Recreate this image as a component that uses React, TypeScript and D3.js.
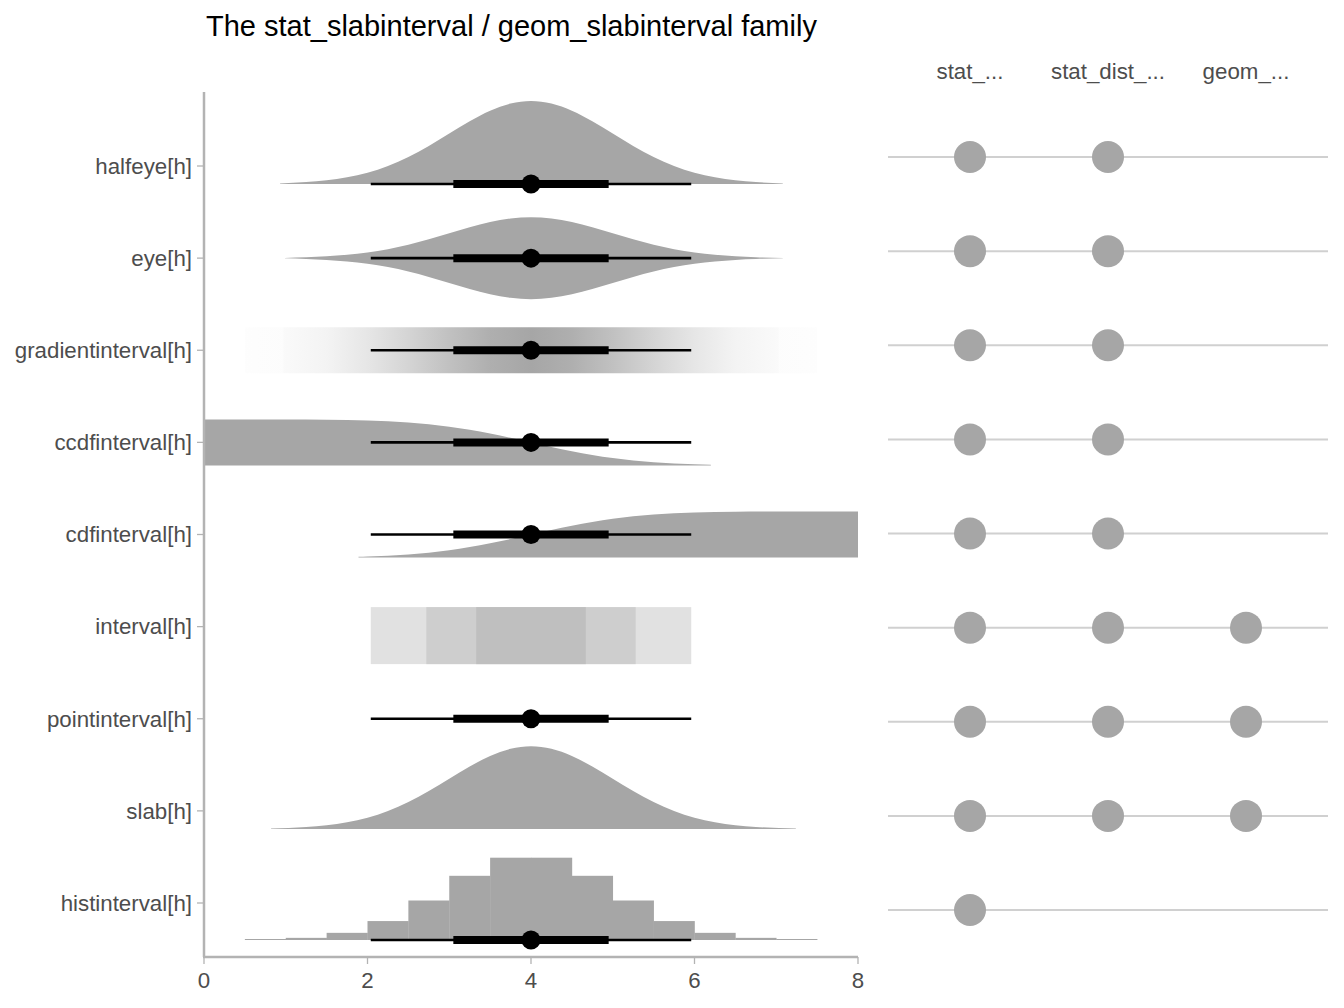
import React, { useEffect, useRef } from "react";
import * as d3 from "d3";

const rowNames = [
  "halfeye[h]",
  "eye[h]",
  "gradientinterval[h]",
  "ccdfinterval[h]",
  "cdfinterval[h]",
  "interval[h]",
  "pointinterval[h]",
  "slab[h]",
  "histinterval[h]",
];
const xTicks = [0, 2, 4, 6, 8];
const columns = ["stat_...", "stat_dist_...", "geom_..."];
// 1 = that function family exists for this geom
const availability = [
  [1, 1, 0],
  [1, 1, 0],
  [1, 1, 0],
  [1, 1, 0],
  [1, 1, 0],
  [1, 1, 1],
  [1, 1, 1],
  [1, 1, 1],
  [1, 0, 0],
];

// slab density (relative to peak)
const densX = [1.25, 1.5, 1.75, 2, 2.25, 2.5, 2.75, 3, 3.25, 3.5, 3.75, 4, 4.25, 4.5, 4.75, 5, 5.25, 5.5, 5.75, 6, 6.25, 6.5, 6.75];
const densY = [0.023, 0.044, 0.08, 0.135, 0.216, 0.325, 0.458, 0.607, 0.755, 0.882, 0.969, 1, 0.969, 0.882, 0.755, 0.607, 0.458, 0.325, 0.216, 0.135, 0.08, 0.044, 0.023];
const tailValue = 0.006;
const halfeyeRange = [0.93, 7.08];
const eyeRange = [0.99, 7.08];
const slabRange = [0.82, 7.24];

// gradient opacity
const gradX = [0.5, 0.96, 0.98, 1.5, 2, 2.5, 3, 3.5, 4, 4.5, 5, 5.5, 6, 6.5, 7.02, 7.04, 7.5];
const gradAlpha = [0.02, 0.03, 0.06, 0.13, 0.28, 0.48, 0.7, 0.9, 1, 0.9, 0.7, 0.48, 0.28, 0.13, 0.06, 0.03, 0.02];

// ccdf / cdf
const ccdfX = [0, 0.5, 1, 1.5, 2, 2.5, 3, 3.25, 3.5, 3.75, 4, 4.25, 4.5, 4.75, 5, 5.5, 6, 6.2];
const ccdfY = [1, 1, 0.999, 0.994, 0.977, 0.933, 0.841, 0.773, 0.691, 0.599, 0.5, 0.401, 0.309, 0.227, 0.159, 0.067, 0.023, 0.014];
const cdfX = [1.89, 2, 2.5, 3, 3.25, 3.5, 3.75, 4, 4.25, 4.5, 4.75, 5, 5.5, 6, 6.5, 7, 8];
const cdfY = [0.017, 0.023, 0.067, 0.159, 0.227, 0.309, 0.401, 0.5, 0.599, 0.691, 0.773, 0.841, 0.933, 0.977, 0.994, 0.999, 1];

// histogram bins (width 0.5) and relative heights
const histEdges = [0.5, 1, 1.5, 2, 2.5, 3, 3.5, 4, 4.5, 5, 5.5, 6, 6.5, 7, 7.5];
const histHeights = [0.006, 0.026, 0.087, 0.23, 0.48, 0.78, 1, 1, 0.78, 0.48, 0.23, 0.087, 0.026, 0.006];

// point + intervals
const pointValue = 4;
const thickInterval = [3.05, 4.95];
const thinInterval = [2.04, 5.96];
const intervalLevels = [
  { lo: 2.04, hi: 5.96, color: "#e1e1e1" },
  { lo: 2.72, hi: 5.28, color: "#cecece" },
  { lo: 3.33, hi: 4.67, color: "#bfbfbf" },
];

const FONT = "'Liberation Sans', Arial, sans-serif";
const SLAB = "#a6a6a6";
const AXIS = "#b3b3b3";
const TEXT = "#4d4d4d";

const App = () => {
  const svgRef = useRef<SVGSVGElement>(null);

  useEffect(() => {
    if (!svgRef.current) return;
    const svg = d3.select(svgRef.current);
    svg.selectAll("*").remove();

    const x = d3.scaleLinear().domain([0, 8]).range([204, 858]);
    const y = d3.scalePoint<string>().domain(rowNames).range([166, 903]);
    const yRight = d3.scalePoint<string>().domain(rowNames).range([157, 910]);
    const xCol = d3.scalePoint<string>().domain(columns).range([970, 1246]);

    const defs = svg.append("defs");
    defs
      .append("clipPath")
      .attr("id", "panel")
      .append("rect")
      .attr("x", 204)
      .attr("y", 60)
      .attr("width", 654)
      .attr("height", 897);

    // title
    svg
      .append("text")
      .attr("x", 206)
      .attr("y", 36)
      .style("font-family", FONT)
      .style("font-size", "29px")
      .style("fill", "black")
      .text("The stat_slabinterval / geom_slabinterval family");

    const g = svg.append("g").attr("clip-path", "url(#panel)");

    const slabPoints = (range: number[]) => {
      const pts: [number, number][] = [[range[0], tailValue]];
      densX.forEach((d, i) => {
        if (d > range[0] && d < range[1]) pts.push([d, densY[i]]);
      });
      pts.push([range[1], tailValue]);
      return pts;
    };

    // halfeye
    const yHalf = y("halfeye[h]")! + 18;
    g.append("path")
      .attr(
        "d",
        d3
          .area<[number, number]>()
          .x((d) => x(d[0]))
          .y0(yHalf)
          .y1((d) => yHalf - 83 * d[1])
          .curve(d3.curveMonotoneX)(slabPoints(halfeyeRange))
      )
      .attr("fill", SLAB);

    // eye
    const yEye = y("eye[h]")!;
    g.append("path")
      .attr(
        "d",
        d3
          .area<[number, number]>()
          .x((d) => x(d[0]))
          .y0((d) => yEye + 41 * d[1])
          .y1((d) => yEye - 41 * d[1])
          .curve(d3.curveMonotoneX)(slabPoints(eyeRange))
      )
      .attr("fill", SLAB);

    // gradient
    const yGrad = y("gradientinterval[h]")!;
    const gx0 = x(gradX[0]);
    const gx1 = x(gradX[gradX.length - 1]);
    const grad = defs
      .append("linearGradient")
      .attr("id", "grad")
      .attr("gradientUnits", "userSpaceOnUse")
      .attr("x1", gx0)
      .attr("x2", gx1)
      .attr("y1", 0)
      .attr("y2", 0);
    gradX.forEach((v, i) => {
      grad
        .append("stop")
        .attr("offset", (x(v) - gx0) / (gx1 - gx0))
        .attr("stop-color", SLAB)
        .attr("stop-opacity", gradAlpha[i]);
    });
    g.append("rect")
      .attr("x", gx0)
      .attr("width", gx1 - gx0)
      .attr("y", yGrad - 23)
      .attr("height", 46)
      .attr("fill", "url(#grad)");

    // ccdf
    const yCcdf = y("ccdfinterval[h]")! + 23;
    g.append("path")
      .attr(
        "d",
        d3
          .area<number>()
          .x((_, i) => x(ccdfX[i]))
          .y0(yCcdf)
          .y1((d) => yCcdf - 46 * d)
          .curve(d3.curveMonotoneX)(ccdfY)
      )
      .attr("fill", SLAB);

    // cdf
    const yCdf = y("cdfinterval[h]")! + 23;
    g.append("path")
      .attr(
        "d",
        d3
          .area<number>()
          .x((_, i) => x(cdfX[i]))
          .y0(yCdf)
          .y1((d) => yCdf - 46 * d)
          .curve(d3.curveMonotoneX)(cdfY)
      )
      .attr("fill", SLAB);

    // interval
    const yInt = y("interval[h]")!;
    intervalLevels.forEach((lv) => {
      g.append("rect")
        .attr("x", x(lv.lo))
        .attr("width", x(lv.hi) - x(lv.lo))
        .attr("y", yInt - 19.5)
        .attr("height", 57)
        .attr("fill", lv.color);
    });

    // slab
    const ySlab = y("slab[h]")! + 18;
    g.append("path")
      .attr(
        "d",
        d3
          .area<[number, number]>()
          .x((d) => x(d[0]))
          .y0(ySlab)
          .y1((d) => ySlab - 82.6 * d[1])
          .curve(d3.curveMonotoneX)(slabPoints(slabRange))
      )
      .attr("fill", SLAB);

    // histogram
    const yHist = y("histinterval[h]")! + 37;
    histHeights.forEach((h, i) => {
      const hh = Math.max(82.3 * h, 1);
      g.append("rect")
        .attr("x", x(histEdges[i]))
        .attr("width", x(histEdges[i + 1]) - x(histEdges[i]) + 0.3)
        .attr("y", yHist - hh)
        .attr("height", hh)
        .attr("fill", SLAB);
    });

    // point intervals
    const intervalRows: [string, number][] = [
      ["halfeye[h]", 18],
      ["eye[h]", 0],
      ["gradientinterval[h]", 0],
      ["ccdfinterval[h]", 0],
      ["cdfinterval[h]", 0],
      ["pointinterval[h]", 0],
      ["histinterval[h]", 37],
    ];
    intervalRows.forEach(([name, off]) => {
      const cy = y(name)! + off;
      g.append("line")
        .attr("x1", x(thinInterval[0]))
        .attr("x2", x(thinInterval[1]))
        .attr("y1", cy)
        .attr("y2", cy)
        .attr("stroke", "black")
        .attr("stroke-width", 2.7);
      g.append("line")
        .attr("x1", x(thickInterval[0]))
        .attr("x2", x(thickInterval[1]))
        .attr("y1", cy)
        .attr("y2", cy)
        .attr("stroke", "black")
        .attr("stroke-width", 8);
      g.append("circle")
        .attr("cx", x(pointValue))
        .attr("cy", cy)
        .attr("r", 9.5)
        .attr("fill", "black");
    });

    // axes
    const axisG = svg.append("g");
    axisG
      .append("line")
      .attr("x1", 204)
      .attr("x2", 204)
      .attr("y1", 92)
      .attr("y2", 957)
      .attr("stroke", AXIS)
      .attr("stroke-width", 2.5);
    axisG
      .append("line")
      .attr("x1", 203)
      .attr("x2", 858)
      .attr("y1", 957)
      .attr("y2", 957)
      .attr("stroke", AXIS)
      .attr("stroke-width", 2.5);

    rowNames.forEach((name) => {
      axisG
        .append("line")
        .attr("x1", 197)
        .attr("x2", 204)
        .attr("y1", y(name)!)
        .attr("y2", y(name)!)
        .attr("stroke", AXIS)
        .attr("stroke-width", 1.3);
      axisG
        .append("text")
        .attr("x", 192)
        .attr("y", y(name)!)
        .attr("dy", "0.35em")
        .attr("text-anchor", "end")
        .style("font-family", FONT)
        .style("font-size", "22.3px")
        .style("fill", TEXT)
        .text(name);
    });

    xTicks.forEach((t) => {
      axisG
        .append("line")
        .attr("x1", x(t))
        .attr("x2", x(t))
        .attr("y1", 957)
        .attr("y2", 964)
        .attr("stroke", AXIS)
        .attr("stroke-width", 1.3);
      axisG
        .append("text")
        .attr("x", x(t))
        .attr("y", 980)
        .attr("dy", "0.35em")
        .attr("text-anchor", "middle")
        .style("font-family", FONT)
        .style("font-size", "22.3px")
        .style("fill", TEXT)
        .text(t);
    });

    // right panel
    const right = svg.append("g");
    columns.forEach((c) => {
      right
        .append("text")
        .attr("x", xCol(c)!)
        .attr("y", 71)
        .attr("dy", "0.35em")
        .attr("text-anchor", "middle")
        .style("font-family", FONT)
        .style("font-size", "22.3px")
        .style("fill", TEXT)
        .text(c);
    });
    rowNames.forEach((name, i) => {
      const cy = yRight(name)!;
      right
        .append("line")
        .attr("x1", 888)
        .attr("x2", 1328)
        .attr("y1", cy)
        .attr("y2", cy)
        .attr("stroke", "#d0d0d0")
        .attr("stroke-width", 2);
      columns.forEach((c, j) => {
        if (!availability[i][j]) return;
        right
          .append("circle")
          .attr("cx", xCol(c)!)
          .attr("cy", cy)
          .attr("r", 16)
          .attr("fill", SLAB);
      });
    });
  }, []);

  return (
    <svg
      ref={svgRef}
      width={1344}
      height={1008}
      style={{ position: "absolute", left: 0, top: 0, background: "white" }}
    ></svg>
  );
};

export default App;
